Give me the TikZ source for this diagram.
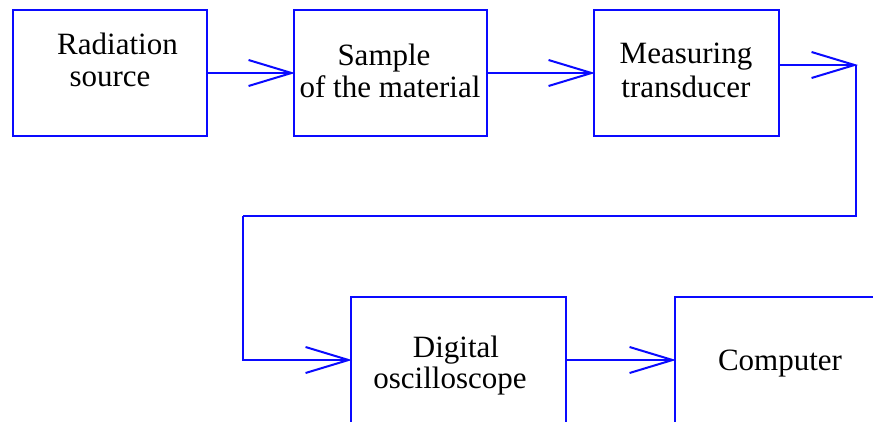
\documentclass[tikz,border=0pt]{standalone}
\usepackage{fontspec}
\setmainfont{Liberation Serif}
\usetikzlibrary{arrows.meta}
\definecolor{lineblue}{RGB}{10,10,255}
\tikzset{
  box/.style={draw=lineblue, line width=2pt, rectangle, inner sep=0pt},
  conn/.style={draw=lineblue, line width=2pt},
  arr/.style={conn, shorten >=-2pt, -{Straight Barb[length=43pt, width=26pt, line width=2pt]}},
  lbl/.style={anchor=base, inner sep=0pt, font=\fontsize{31}{32}\selectfont}
}
\begin{document}
\begin{tikzpicture}[x=1pt, y=-1pt]
\clip (0,0) rectangle (873,421);
\fill[white] (0,0) rectangle (873,421);
% boxes
\node[box, minimum width=194pt, minimum height=126pt] (b1) at (110,73) {};
\node[box, minimum width=193pt, minimum height=126pt] (b2) at (390.5,73) {};
\node[box, minimum width=185pt, minimum height=126pt] (b3) at (686.5,73) {};
\node[box, minimum width=215pt, minimum height=126pt] (b4) at (458.5,360) {};
\node[box, minimum width=240pt, minimum height=126pt] (b5) at (795,360) {};
% labels
\node[lbl] (t1a) at (117.5,54) {Radiation};
\node[lbl] (t1b) at (110,86) {source};
\node[lbl] (t2a) at (384,65) {Sample};
\node[lbl] (t2b) at (390,97) {of the material};
\node[lbl] (t3a) at (686,63) {Measuring};
\node[lbl] (t3b) at (686,97) {transducer};
\node[lbl] (t4a) at (456,357) {Digital};
\node[lbl] (t4b) at (450,388) {oscilloscope};
\node[lbl] (t5) at (780,370) {Computer};
% connectors
\coordinate (c1) at (856,65);
\coordinate (c2) at (856,216);
\coordinate (c3) at (243,216);
\draw[arr] (b1) -- (b2);
\draw[arr] (b2) -- (b3);
\draw[arr] (b3.east |- c1) -- (c1);
\draw[conn] (c1) -- (c2) -- (c3);
\draw[arr] (c3) |- (b4.west);
\draw[arr] (b4) -- (b5);
\end{tikzpicture}
\end{document}
